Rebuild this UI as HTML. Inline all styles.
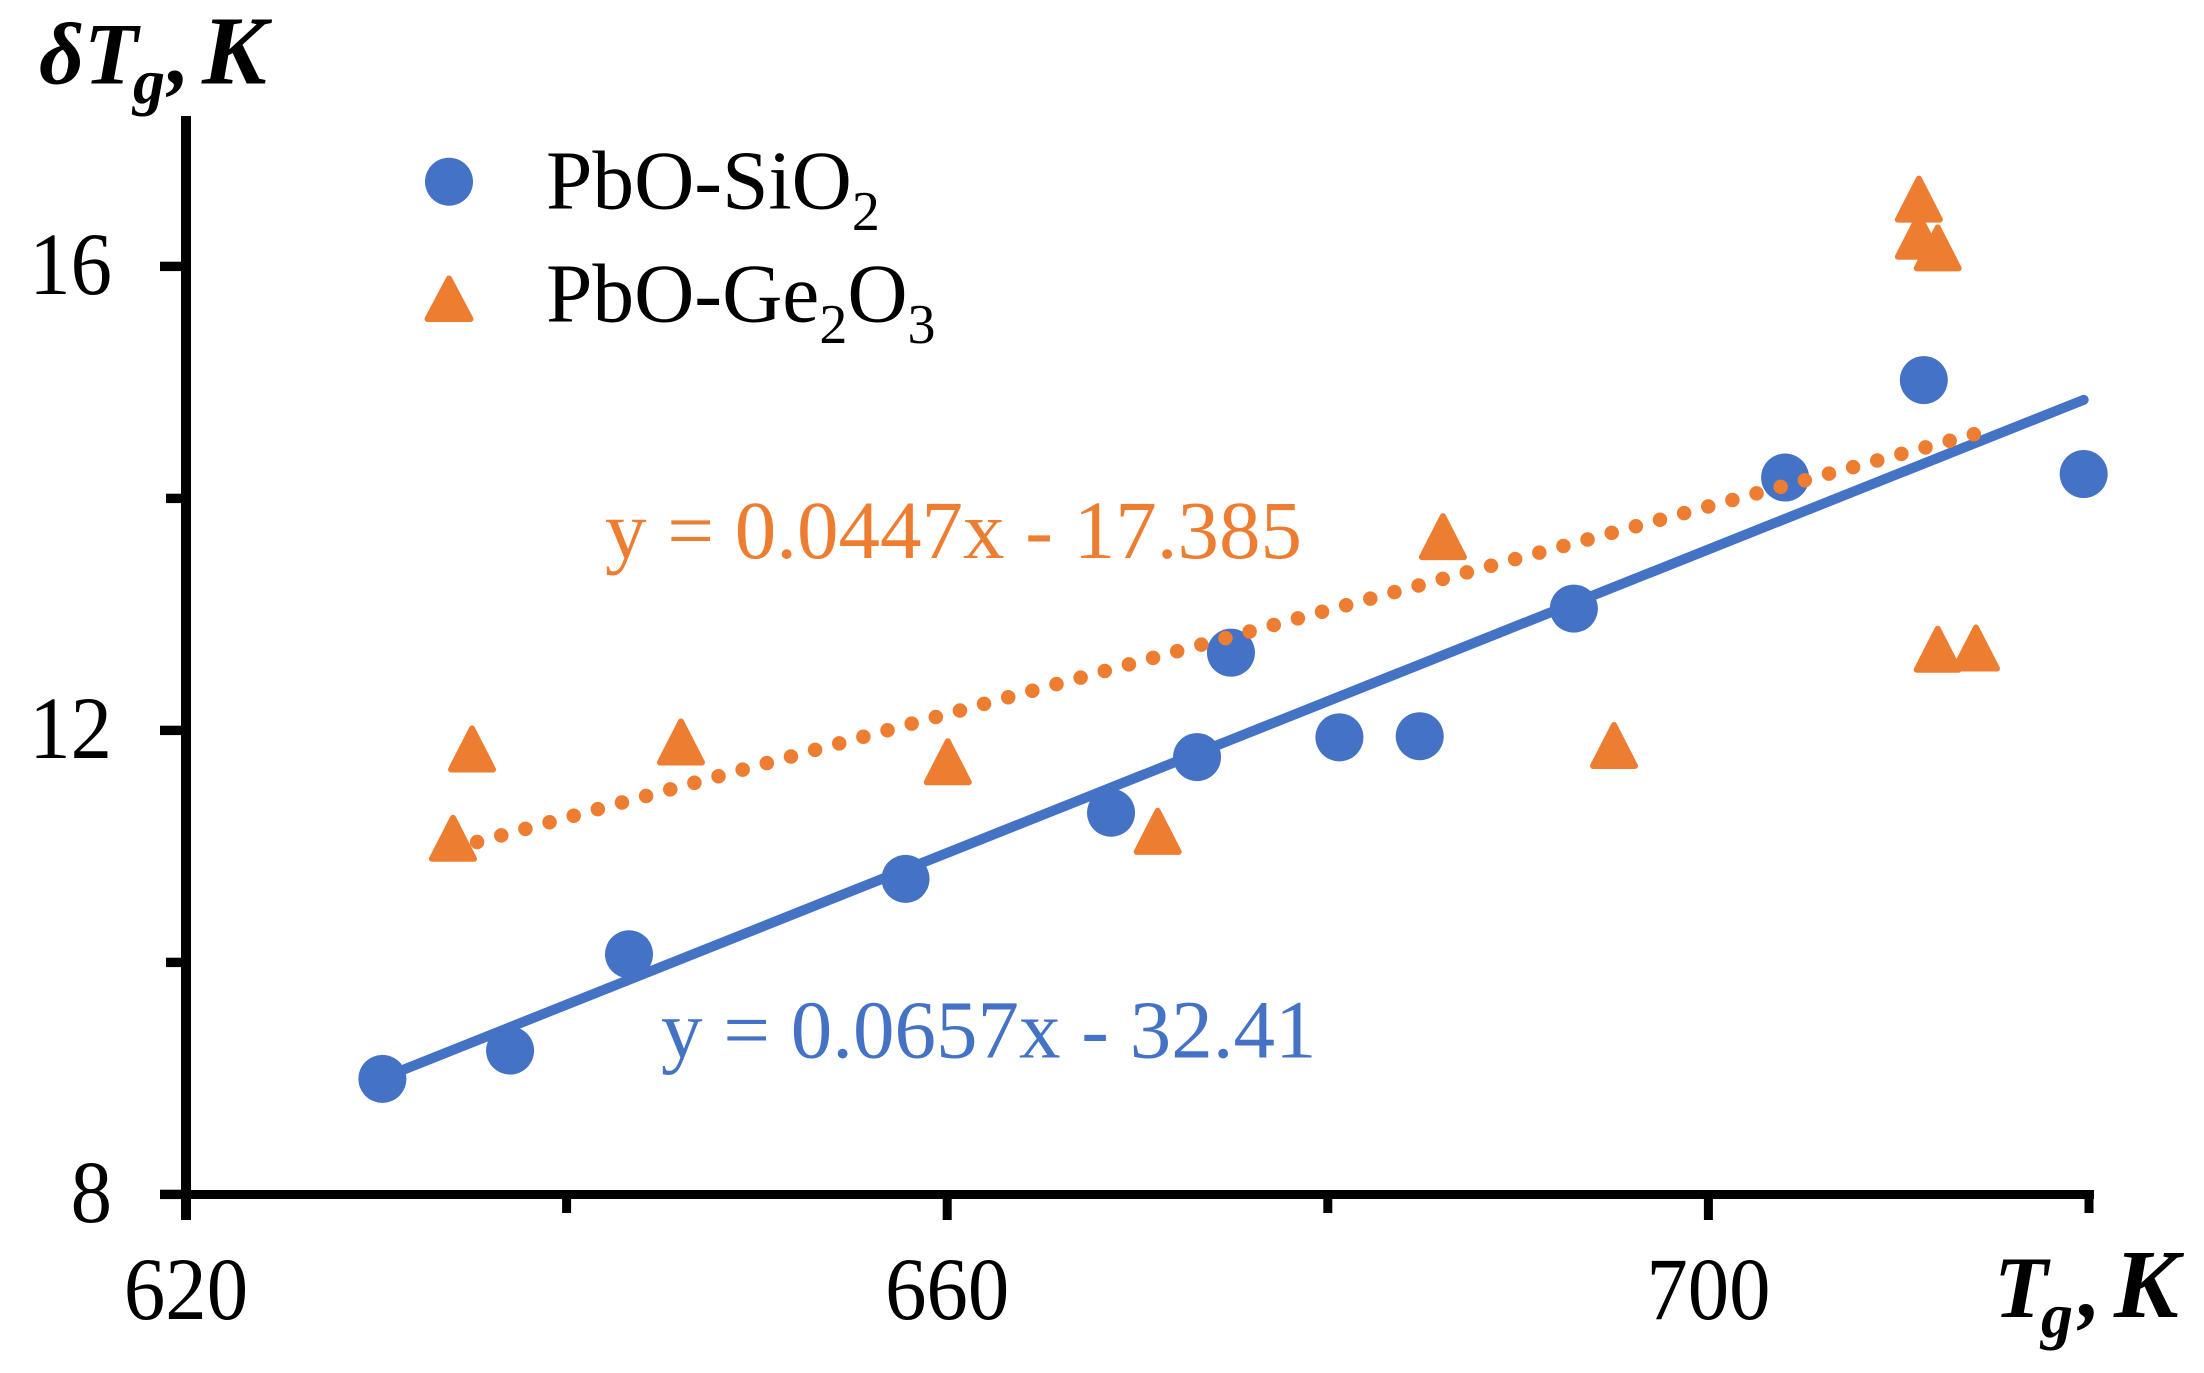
<!DOCTYPE html>
<html lang="en">
<head>
<meta charset="utf-8">
<title>Glass transition range vs Tg</title>
<style>
  html,body{margin:0;padding:0;background:#fff;}
  svg{display:block;}
  text{font-family:"Liberation Serif","DejaVu Serif",serif;}
  .tick{font-size:89px;fill:#000;}
  .legend{font-size:83.4px;fill:#000;}
  .sub{font-size:56px;}
  .title{font-size:88px;font-weight:bold;font-style:italic;fill:#000;}
  .eq{font-size:83px;}
</style>
</head>
<body>
<svg id="chart" xmlns="http://www.w3.org/2000/svg" width="2204" height="1373" viewBox="0 0 2204 1373">
  <rect x="0" y="0" width="2204" height="1373" fill="#fff"/>
  <g id="axes"></g>
  <g id="marks"></g>

  <text class="title" x="39" y="83.5">δT<tspan x="133" y="103" font-size="64">g</tspan><tspan x="168" y="83.5">,</tspan><tspan x="202" y="83.5" font-size="97">K</tspan></text>
  <text class="title" x="1994" y="1317">T<tspan x="2041" y="1337" font-size="64">g</tspan><tspan x="2079" y="1317">,</tspan><tspan x="2114" y="1317" font-size="97">K</tspan></text>

  <g>
    <circle cx="449" cy="181.7" r="24" fill="#4472C4"/>
    <text class="legend" x="546" y="208.5">PbO-SiO<tspan class="sub" dy="21.5">2</tspan></text>
    <polygon points="449,278.5 470.5,319 427.5,319" fill="#ED7D31" stroke="#ED7D31" stroke-width="6" stroke-linejoin="round"/>
    <text class="legend" x="546" y="321.5">PbO-Ge<tspan class="sub" dy="21.5">2</tspan><tspan dy="-21.5">O</tspan><tspan class="sub" dy="21.5">3</tspan></text>
  </g>

  <text class="eq" x="605" y="558" fill="#ED7D31">y = 0.0447x - 17.385</text>
  <text class="eq" x="661" y="1057.5" fill="#4472C4">y = 0.0657x - 32.41</text>
</svg>

<script>
const xTicks = [620, 640, 660, 680, 700, 720];
const xTickLabels = ["620", "", "660", "", "700", ""];
const yTicks = [8, 10, 12, 14, 16];
const yTickLabels = ["8", "", "12", "", "16"];

const sio2X = [630.32, 637.03, 643.28, 657.81, 668.61, 673.13, 674.91, 680.61, 684.83, 692.93, 704.03, 711.32, 719.72];
const sio2Y = [8.996, 9.24, 10.07, 10.72, 11.29, 11.77, 12.67, 11.94, 11.95, 13.05, 14.18, 15.02, 14.21];

const geo2X = [634.03, 635.03, 646.01, 660.03, 671.06, 686.05, 695.04, 711.06, 711.06, 712.05, 712.05, 714.06];
const geo2Y = [11.07, 11.84, 11.90, 11.73, 11.13, 13.67, 11.87, 16.58, 16.26, 16.16, 12.70, 12.71];

const sio2Trend = [0.0654, -32.22];
const geo2Trend = [0.0447, -17.36];

const NS = 'http://www.w3.org/2000/svg';
const BLUE = '#4472C4';
const ORANGE = '#ED7D31';
const TICK_LABEL_SQUEEZE = 0.93;
const scaleX = v => 186 + (v - 620) * 19.03;
const scaleY = v => 1194.4 - (v - 8) * 116;

const axes = document.getElementById('axes');
const marks = document.getElementById('marks');

function mk(tag, parent) {
  const el = document.createElementNS(NS, tag);
  parent.appendChild(el);
  return el;
}
function rect(parent, x, y, w, h) {
  const r = mk('rect', parent);
  r.setAttribute('x', x);
  r.setAttribute('y', y);
  r.setAttribute('width', w);
  r.setAttribute('height', h);
  r.setAttribute('fill', '#000');
  return r;
}
function placeTickLabel(el, x, y) {
  el.setAttribute('class', 'tick');
  el.setAttribute('x', 0);
  el.setAttribute('y', 0);
  el.setAttribute('transform', 'translate(' + x + ' ' + y + ') scale(' + TICK_LABEL_SQUEEZE + ' 1)');
}

const yAxisLine = rect(axes, 181, 116, 10, 1104);



const xAxisLine = rect(axes, 160, 1190, 1934, 9);



yTicks.forEach((t, i) => {
  const major = yTickLabels[i] !== '';
  const left = major ? 160 : 166;
  const tick = rect(axes, left, scaleY(t) - 4.7, 186 - left, 9.4);
  
  
  if (major) {
    const lab = mk('text', axes);
    placeTickLabel(lab, 112, scaleY(t) + 27.5);
    lab.setAttribute('text-anchor', 'end');
    lab.textContent = yTickLabels[i];
    
    
  }
});

xTicks.forEach((t, i) => {
  const major = xTickLabels[i] !== '';
  const bottom = major ? 1220 : 1213;
  const tick = rect(axes, scaleX(t) - 4.5, 1194, 9, bottom - 1194);
  
  
  if (major) {
    const lab = mk('text', axes);
    placeTickLabel(lab, scaleX(t), 1319);
    lab.setAttribute('text-anchor', 'middle');
    lab.textContent = xTickLabels[i];
    
    
  }
});

sio2X.forEach((xv, i) => {
  const c = mk('circle', marks);
  c.setAttribute('cx', scaleX(xv));
  c.setAttribute('cy', scaleY(sio2Y[i]));
  c.setAttribute('r', 24);
  c.setAttribute('fill', BLUE);
  
  
});

function trendLine(xs, trend, color, width, dash) {
  const x0 = Math.min.apply(null, xs);
  const x1 = Math.max.apply(null, xs);
  const l = mk('line', marks);
  l.setAttribute('x1', scaleX(x0));
  l.setAttribute('y1', scaleY(trend[0] * x0 + trend[1]));
  l.setAttribute('x2', scaleX(x1));
  l.setAttribute('y2', scaleY(trend[0] * x1 + trend[1]));
  l.setAttribute('stroke', color);
  l.setAttribute('stroke-width', width);
  l.setAttribute('stroke-linecap', 'round');
  if (dash) l.setAttribute('stroke-dasharray', dash);
  return l;
}

const sio2Line = trendLine(sio2X, sio2Trend, BLUE, 10, null);



const geo2Line = trendLine(geo2X, geo2Trend, ORANGE, 14.5, '0 25.02');



geo2X.forEach((xv, i) => {
  const cx = scaleX(xv);
  const cy = scaleY(geo2Y[i]);
  const p = mk('polygon', marks);
  p.setAttribute('points', cx + ',' + (cy - 20.5) + ' ' + (cx + 21) + ',' + (cy + 20.5) + ' ' + (cx - 21) + ',' + (cy + 20.5));
  p.setAttribute('fill', ORANGE);
  p.setAttribute('stroke', ORANGE);
  p.setAttribute('stroke-width', 6);
  p.setAttribute('stroke-linejoin', 'round');
  
  
});
</script>
</body>
</html>
